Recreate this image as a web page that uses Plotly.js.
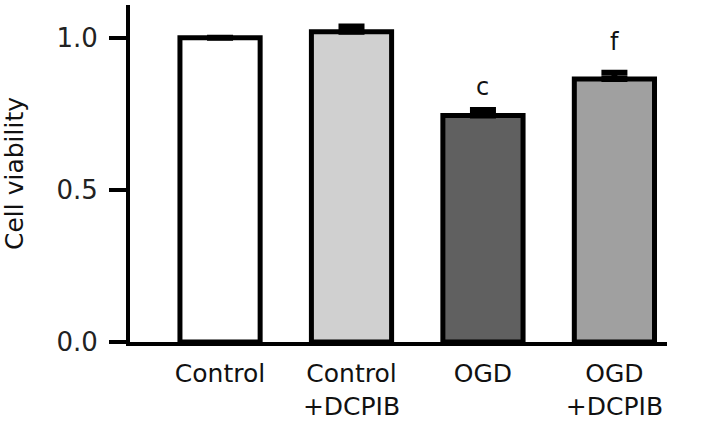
<!DOCTYPE html>
<html>
<head>
<meta charset="utf-8">
<script src="https://cdn.plot.ly/plotly-3.0.1.min.js"></script>
<style>
  html, body { margin: 0; padding: 0; background: #fff; }
  #chart { width: 714px; height: 424px; }
</style>
</head>
<body>
<div id="chart"></div>
<script>
// groups and mean viability (relative to control)
var groups = ["Control", "Control<br>+DCPIB", "OGD", "OGD<br>+DCPIB"];
var viability = [1.0, 1.02, 0.745, 0.865];
var errUp = [0, 0.017, 0.018, 0.02];
var errDown = [0, 0, 0, 0];
var barColors = ["#ffffff", "#d0d0d0", "#606060", "#a0a0a0"];

// significance letters
var sigGroups = ["OGD", "OGD<br>+DCPIB"];
var sigLetters = ["c", "f"];
var sigY = [0.84, 0.985];

var font = "DejaVu Sans, Verdana, sans-serif";

var trace = {
    type: "bar",
    x: groups,
    y: viability,
    marker: {
        color: barColors,
        line: {color: "#000", width: 5}
    },
    error_y: {
        type: "data",
        symmetric: false,
        array: errUp,
        arrayminus: errDown,
        visible: true,
        color: "#000",
        thickness: 6,
        width: 13
    },
    hoverinfo: "none"
};

var annotations = sigLetters.map(function (s, i) {
    return {
        x: sigGroups[i],
        y: sigY[i],
        xref: "x",
        yref: "y",
        text: s,
        showarrow: false,
        font: {family: font, size: 24, color: "#111"}
    };
});

var layout = {
    width: 714,
    height: 424,
    margin: {l: 130, r: 47, t: 5, b: 82},
    paper_bgcolor: "#fff",
    plot_bgcolor: "#fff",
    showlegend: false,
    bargap: 0.39,
    font: {family: font, size: 25, color: "#111"},
    xaxis: {
        type: "category",
        range: [-0.685, 3.4],
        showline: true,
        linecolor: "#000",
        linewidth: 4,
        ticks: "",
        ticklabelstandoff: 6,
        showgrid: false,
        zeroline: false,
        tickfont: {family: font, size: 25, color: "#111"}
    },
    yaxis: {
        title: {text: "Cell viability", font: {family: font, size: 25, color: "#111"}, standoff: 30},
        range: [0, 1.108],
        tickvals: [0, 0.5, 1.0],
        tickformat: ".1f",
        showline: true,
        linecolor: "#000",
        linewidth: 4,
        ticks: "outside",
        ticklen: 17,
        tickwidth: 4,
        tickcolor: "#000",
        ticklabelstandoff: 6,
        showgrid: false,
        zeroline: false,
        tickfont: {family: font, size: 26, color: "#222"}
    },
    annotations: annotations
};

Plotly.newPlot("chart", [trace], layout, {displayModeBar: false, staticPlot: true});
</script>
</body>
</html>
